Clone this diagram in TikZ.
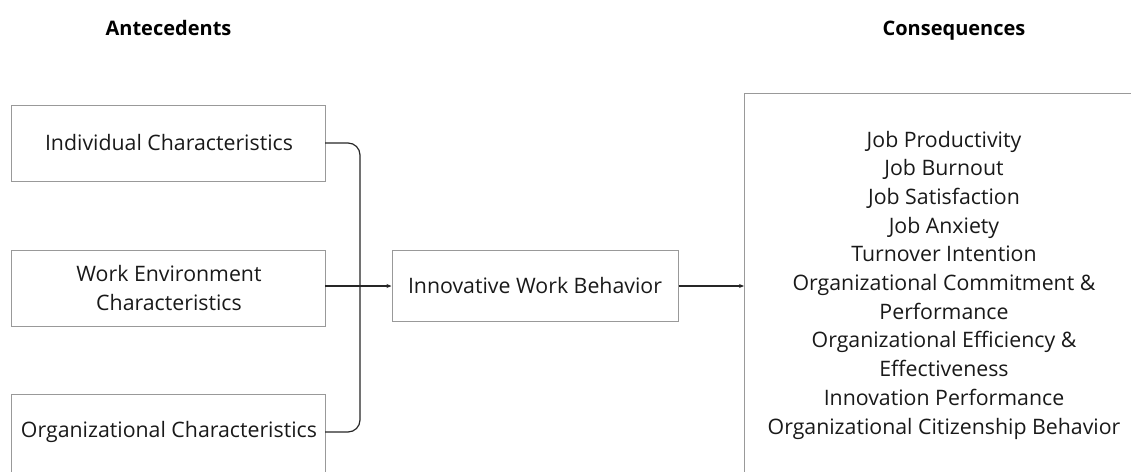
\documentclass[tikz,border=0pt]{standalone}
\usepackage{fontspec}
\setmainfont{Open Sans}
\usetikzlibrary{arrows.meta}
\begin{document}
\begin{tikzpicture}[x=1pt,y=-1pt,
  box/.style={draw=black!40, line width=1pt, inner sep=0pt},
  lbl/.style={font=\fontsize{21.3}{28.7}\selectfont, align=center, text=black!90},
  head/.style={font=\fontsize{20}{22}\selectfont\bfseries, anchor=base},
  link/.style={draw=black!85, line width=1.2pt},
  tip/.style={-{Stealth[length=5pt,width=4pt]}}]
\useasboundingbox (0,0) rectangle (1131,471);
% column headings
\node[head] (hA) at (168.5,35) {Antecedents};
\node[head] (hC) at (954,35.5) {Consequences};
% antecedent boxes
\draw[box] (11,105) rectangle (325,181);
\node[lbl] (ind) at (169,143) {Individual Characteristics};
\draw[box] (11,250) rectangle (325,326);
\node[lbl] (env) at (169,288) {Work Environment\\Characteristics};
\draw[box] (11,394) rectangle (325,475);
\node[lbl] (org) at (169,432) {Organizational Characteristics};
\coordinate (indR) at (325,143);
\coordinate (envR) at (325,286);
\coordinate (orgR) at (325,432);
% central box
\node[box, minimum width=286pt, minimum height=71pt] (iwb) at (535,285.5) {};
\node[lbl] at (iwb) {Innovative Work Behavior};
% consequences box, running past the right and bottom edges
\draw[box] (1140,93) -- (744,93) -- (744,480);
\coordinate (consL) at (744,286);
\node[lbl] (cons) at (944,285) {Job Productivity\\Job Burnout\\Job Satisfaction\\Job Anxiety\\Turnover Intention\\Organizational Commitment \&\\Performance\\Organizational Efficiency \&\\Effectiveness\\Innovation Performance\\Organizational Citizenship Behavior};
% connectors
\draw[link, rounded corners=12pt] (indR) -- (360,143) -- (360,432) -- (orgR);
\draw[link, tip] (envR) -- (iwb.west |- envR);
\draw[link, tip] (iwb.east |- envR) -- (consL);
\end{tikzpicture}
\end{document}
